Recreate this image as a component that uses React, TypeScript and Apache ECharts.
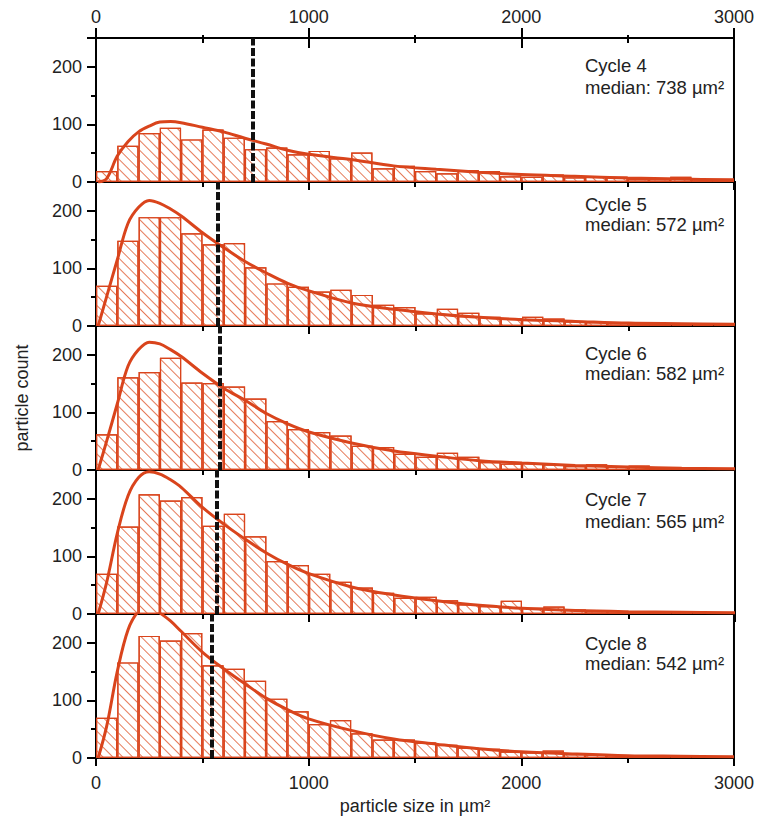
import React, { useEffect, useRef } from "react";
import * as echarts from "echarts";

const binLabels = Array.from({ length: 30 }, (_, i) => `${i * 100}-${i * 100 + 100}`);
const cycles = ["Cycle 4", "Cycle 5", "Cycle 6", "Cycle 7", "Cycle 8"];
const medians = [738, 572, 582, 565, 542];

const bins4 = [19, 63, 85, 94, 74, 91, 77, 57, 60, 48, 54, 41, 51, 24, 28, 19, 15, 21, 19, 10, 9, 13, 8, 10, 9, 5, 5, 9, 5, 3];
const bins5 = [70, 148, 189, 189, 161, 142, 144, 102, 74, 68, 60, 63, 54, 37, 33, 22, 30, 23, 16, 13, 16, 13, 8, 7, 5, 3, 3, 2, 2, 2];
const bins6 = [62, 161, 170, 195, 152, 151, 145, 124, 85, 71, 66, 60, 42, 40, 28, 23, 30, 23, 14, 11, 12, 10, 7, 10, 6, 8, 4, 3, 3, 2];
const bins7 = [70, 152, 208, 197, 203, 153, 174, 135, 92, 85, 70, 56, 46, 37, 28, 30, 24, 17, 14, 23, 11, 13, 8, 5, 5, 3, 3, 2, 2, 2];
const bins8 = [70, 166, 212, 204, 217, 161, 155, 134, 103, 81, 59, 66, 43, 32, 32, 27, 23, 18, 16, 11, 10, 13, 7, 6, 5, 3, 3, 2, 2, 2];

const fitX = [10, 50, 100, 150, 200, 250, 300, 350, 400, 500, 600, 700, 800, 900, 1000, 1200, 1400, 1600, 1800, 2000, 2250, 2500, 2750, 3000];
const fit4 = [0, 6, 45, 70, 87, 97, 104, 105, 103, 95, 87, 76, 66, 55, 48, 39, 28, 22, 17, 13, 10, 7, 5, 4];
const fit5 = [0, 51, 115, 178, 206, 218, 213, 203, 191, 162, 136, 112, 92, 74, 61, 40, 29, 21, 15, 11, 8, 5, 4, 3];
const fit6 = [0, 50, 115, 180, 209, 222, 219, 209, 197, 168, 142, 121, 98, 80, 66, 47, 33, 24, 16, 12, 8, 5, 3, 2];
const fit7 = [0, 55, 140, 205, 237, 247, 243, 233, 220, 185, 156, 130, 106, 86, 70, 47, 33, 23, 15, 10, 6, 4, 3, 2];
const fit8 = [0, 55, 150, 222, 255, 265, 252, 238, 220, 184, 155, 129, 104, 84, 68, 48, 33, 24, 16, 11, 7, 4, 3, 2];

const xTicks = [0, 1000, 2000, 3000];
const yTicks = [0, 100, 200];

const allBins = [bins4, bins5, bins6, bins7, bins8];
const allFits = [fit4, fit5, fit6, fit7, fit8];

const FONT = "'Liberation Sans', Arial, sans-serif";
const RED = "#d9441c";
const HATCH = "#e67b5a";

export default function App() {
  const ref = useRef<HTMLDivElement>(null);
  useEffect(() => {
    if (!ref.current) return;
    const chart = echarts.init(ref.current, null, { renderer: "svg" });
    const L = 96, R = 22, H = 144;
    const tops = [38, 182, 326, 470, 614];
    const cycOff = [27, 22, 27, 29, 29];
    const medOff = [49, 42, 47, 51, 49];

    const grids: any[] = [];
    const xAxes: any[] = [];
    const yAxes: any[] = [];
    const series: any[] = [];
    const graphics: any[] = [];

    tops.forEach((top, i) => {
      grids.push({ left: L, right: R, top, height: H, show: true, borderColor: "#000", borderWidth: 2, backgroundColor: "transparent" });
      const valIdx = xAxes.length;
      xAxes.push({
        type: "value", gridIndex: i, position: "bottom", min: 0, max: 3000, interval: 1000,
        axisLine: { show: true, lineStyle: { color: "#000", width: 2 } },
        axisTick: { show: true, inside: false, length: 8, lineStyle: { color: "#000", width: 2 } },
        minorTick: { show: true, splitNumber: 2, length: 5, lineStyle: { color: "#000", width: 2 } },
        axisLabel: { show: i === 4, fontSize: 18, color: "#222", fontFamily: FONT, margin: 16,
          formatter: (v: number) => (xTicks.includes(v) ? String(v) : "") },
        splitLine: { show: false },
      });
      const catIdx = xAxes.length;
      xAxes.push({ type: "category", gridIndex: i, data: binLabels, show: false, boundaryGap: true });
      if (i === 0) {
        xAxes.push({
          type: "value", gridIndex: 0, position: "top", min: 0, max: 3000, interval: 1000,
          axisLine: { show: true, lineStyle: { color: "#000", width: 2 } },
          axisTick: { show: true, inside: true, length: 10, lineStyle: { color: "#000", width: 2 } },
          minorTick: { show: true, splitNumber: 2, length: 5, lineStyle: { color: "#000", width: 2 } },
          axisLabel: { show: false },
          splitLine: { show: false },
        });
        xAxes.push({
          type: "value", gridIndex: 0, position: "top", min: 0, max: 3000, interval: 1000,
          axisLine: { show: false },
          axisTick: { show: true, inside: false, length: 10, lineStyle: { color: "#000", width: 2 } },
          minorTick: { show: true, splitNumber: 2, length: 3, lineStyle: { color: "#000", width: 2 } },
          axisLabel: { show: true, fontSize: 18, color: "#222", fontFamily: FONT, margin: 12,
            formatter: (v: number) => (xTicks.includes(v) ? String(v) : "") },
          splitLine: { show: false },
        });
      }
      yAxes.push({
        type: "value", gridIndex: i, min: 0, max: 250, interval: 100,
        axisLine: { show: true, lineStyle: { color: "#000", width: 2 } },
        axisTick: { show: true, inside: false, length: 9, lineStyle: { color: "#000", width: 2 } },
        minorTick: { show: true, splitNumber: 2, length: 5, lineStyle: { color: "#000", width: 2 } },
        axisLabel: { fontSize: 18, color: "#222", fontFamily: FONT, margin: 14, showMaxLabel: false,
          formatter: (v: number) => (yTicks.includes(v) ? String(v) : "") },
        splitLine: { show: false },
      });
      series.push({
        type: "bar", xAxisIndex: catIdx, yAxisIndex: i, data: allBins[i],
        barCategoryGap: "0%", barGap: "0%",
        itemStyle: {
          color: "#ffffff", borderColor: RED, borderWidth: 1.2,
          decal: { symbol: "rect", symbolSize: 1, dashArrayX: [1, 0], dashArrayY: [1, 6], rotation: Math.PI / 4, color: HATCH, backgroundColor: "#ffffff" },
        },
        z: 2,
      });
      series.push({
        type: "line", xAxisIndex: valIdx, yAxisIndex: i,
        data: fitX.map((x, k) => [x, allFits[i][k]]),
        smooth: 0.35, symbol: "none", clip: true,
        lineStyle: { color: RED, width: 3 },
        z: 3,
        markLine: {
          silent: true, symbol: ["none", "none"], label: { show: false },
          lineStyle: { color: "#111", width: 4, type: [8, 2.5] },
          data: [{ xAxis: medians[i] }],
          z: 4,
        },
      });
      graphics.push({
        type: "text", x: 585, y: top + cycOff[i],
        style: { text: cycles[i], font: `18.5px ${FONT}`, fill: "#222", verticalAlign: "middle" },
      });
      graphics.push({
        type: "text", x: 585, y: top + medOff[i],
        style: { text: `median: ${medians[i]} µm²`, font: `18.5px ${FONT}`, fill: "#222", verticalAlign: "middle" },
      });
    });

    graphics.push({
      type: "text", x: 22, y: 398, rotation: Math.PI / 2,
      style: { text: "particle count", font: `18px ${FONT}`, fill: "#222", align: "center", verticalAlign: "middle" },
    });
    graphics.push({
      type: "text", x: 415, y: 806,
      style: { text: "particle size in µm²", font: `18px ${FONT}`, fill: "#222", align: "center", verticalAlign: "middle" },
    });

    chart.setOption({
      animation: false,
      backgroundColor: "#ffffff",
      grid: grids,
      xAxis: xAxes,
      yAxis: yAxes,
      series,
      graphic: graphics,
    });
    return () => chart.dispose();
  }, []);
  return <div ref={ref} style={{ position: "fixed", left: 0, top: 0, width: 757, height: 819 }} />;
}
